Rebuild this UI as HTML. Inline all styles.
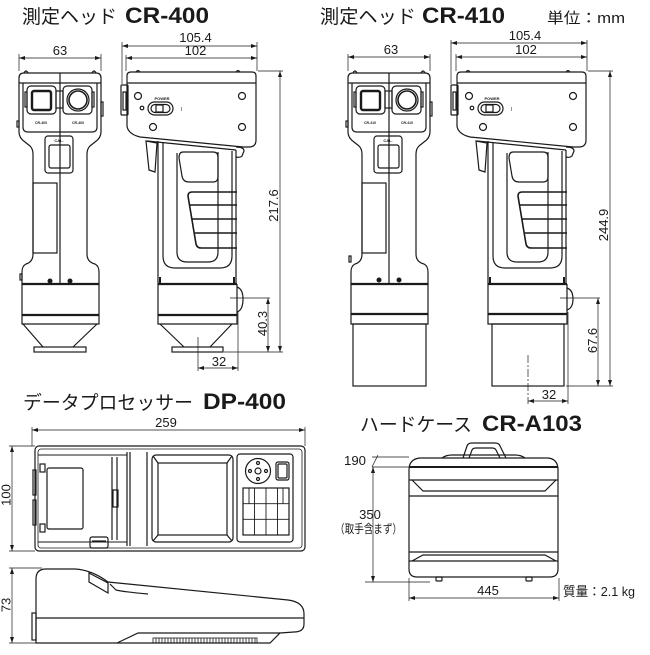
<!DOCTYPE html>
<html><head><meta charset="utf-8"><style>
html,body{margin:0;padding:0;background:#fff;}
svg{display:block;}
.o{fill:none;stroke:#1a1a1a;stroke-width:1.2;}
.d{fill:none;stroke:#1a1a1a;stroke-width:0.7;}
text{font-family:"Liberation Sans","Noto Sans CJK JP",sans-serif;fill:#1a1a1a;stroke:none;}
.n{font-size:13px;text-anchor:middle;}
.t{font-size:19px;}
.b{font-size:22px;font-weight:bold;}
.f{fill:#1a1a1a;}
</style></head><body>
<svg width="650" height="655" viewBox="0 0 650 655" xmlns="http://www.w3.org/2000/svg">
<defs>
<marker id="ar" markerUnits="userSpaceOnUse" markerWidth="6" markerHeight="4" refX="6" refY="2" orient="auto-start-reverse" viewBox="0 0 6 4"><path d="M0,0 L6,2 L0,4 Z" fill="#1a1a1a"/></marker>
</defs>

<!-- Titles -->
<text class="t" x="22" y="23" textLength="95" lengthAdjust="spacingAndGlyphs">測定ヘッド</text>
<text class="b" x="125" y="23" textLength="84" lengthAdjust="spacingAndGlyphs">CR-400</text>
<text class="t" x="320" y="23" textLength="96" lengthAdjust="spacingAndGlyphs">測定ヘッド</text>
<text class="b" x="422" y="23" textLength="83" lengthAdjust="spacingAndGlyphs">CR-410</text>
<text x="547" y="23" font-size="15" textLength="78" lengthAdjust="spacingAndGlyphs">単位：mm</text>
<text class="t" x="23" y="409" textLength="170" lengthAdjust="spacingAndGlyphs">データプロセッサー</text>
<text class="b" x="203" y="409" textLength="83" lengthAdjust="spacingAndGlyphs">DP-400</text>
<text class="t" x="360" y="431" textLength="112" lengthAdjust="spacingAndGlyphs">ハードケース</text>
<text class="b" x="482" y="431" textLength="100" lengthAdjust="spacingAndGlyphs">CR-A103</text>

<!-- ===== CR-400 FRONT ===== -->
<g class="o">
<path d="M24,73 H96 Q101,73 101,78 V132 Q101,138 95,142 L90,146 Q87,149 87,154 V254 Q87,262 95,264 Q99,266 99,272 V284 H22 V272 Q22,266 26,264 Q33,262 33,254 V154 Q33,149 30,146 L25,142 Q19,138 19,132 V78 Q19,73 24,73 Z"/>
<path d="M19,83 H101 M23,83 V127 Q23,132 28,132 H92 Q97,132 97,127 V83 M60,73 V284"/>
<path d="M24,73 Q26,69 28,73 M92,73 Q94,69 96,73"/>
<rect x="27" y="86" width="29" height="28" rx="4"/>
<rect x="32" y="91" width="19" height="19" rx="2" stroke-width="2.4"/>
<rect x="63" y="86" width="29" height="28" rx="4"/>
<circle cx="78" cy="100" r="11"/>
<circle cx="78" cy="100" r="9" stroke-width="1.6"/>
<rect x="56" y="91" width="7" height="17"/>
<rect x="25" y="92" width="2" height="15"/>
<rect x="92" y="92" width="2" height="15"/>
<rect x="101" y="102" width="2" height="14"/>
<rect x="17" y="121" width="2" height="6"/>
<rect x="45" y="136" width="28" height="37" rx="3"/>
<rect x="49" y="145" width="21" height="23" rx="2"/>
<rect x="33" y="183" width="24" height="70"/>
<rect x="20" y="274" width="2" height="6"/>
<path d="M22,284 V324 H99 V284"/>
<path d="M22,284 H99 M22,315 H99" stroke-width="2.2"/>
<path d="M23,324 L43,347 M97,324 L73,347"/>
<rect x="34" y="347" width="52" height="5"/>
</g>
<circle cx="50" cy="281" r="2.5" class="f"/><circle cx="70" cy="281" r="2.5" class="f"/>
<text x="41" y="124" font-size="3.5" font-weight="bold" text-anchor="middle">CR-400</text>
<text x="78" y="124" font-size="3.5" font-weight="bold" text-anchor="middle">CR-400</text>
<text x="59" y="142" font-size="4" font-weight="bold" text-anchor="middle">CAL.</text>

<!-- ===== CR-410 FRONT ===== -->
<g transform="translate(329,0)">
<g class="o">
<path d="M24,73 H96 Q101,73 101,78 V132 Q101,138 95,142 L90,146 Q87,149 87,154 V254 Q87,262 95,264 Q99,266 99,272 V284 H22 V272 Q22,266 26,264 Q33,262 33,254 V154 Q33,149 30,146 L25,142 Q19,138 19,132 V78 Q19,73 24,73 Z"/>
<path d="M19,83 H101 M23,83 V127 Q23,132 28,132 H92 Q97,132 97,127 V83 M60,73 V284"/>
<path d="M24,73 Q26,69 28,73 M92,73 Q94,69 96,73"/>
<rect x="27" y="86" width="29" height="28" rx="4"/>
<rect x="32" y="91" width="19" height="19" rx="2" stroke-width="2.4"/>
<rect x="63" y="86" width="29" height="28" rx="4"/>
<circle cx="78" cy="100" r="11"/>
<circle cx="78" cy="100" r="9" stroke-width="1.6"/>
<rect x="56" y="91" width="7" height="17"/>
<rect x="25" y="92" width="2" height="15"/>
<rect x="92" y="92" width="2" height="15"/>
<rect x="101" y="102" width="2" height="14"/>
<rect x="17" y="121" width="2" height="6"/>
<rect x="45" y="136" width="28" height="37" rx="3"/>
<rect x="49" y="145" width="21" height="23" rx="2"/>
<rect x="33" y="183" width="24" height="70"/>
<rect x="20" y="256" width="2" height="6"/>
<path d="M22,284 V324 H99 V284"/>
<path d="M22,284 H99 M22,314 H99" stroke-width="2.2"/>
<rect x="24" y="324" width="73" height="62"/>
</g>
<circle cx="50" cy="280" r="2.5" class="f"/><circle cx="70" cy="280" r="2.5" class="f"/>
<text x="41" y="124" font-size="3.5" font-weight="bold" text-anchor="middle">CR-410</text>
<text x="78" y="124" font-size="3.5" font-weight="bold" text-anchor="middle">CR-410</text>
<text x="59" y="142" font-size="4" font-weight="bold" text-anchor="middle">CAL.</text>
</g>

<!-- ===== CR-400 SIDE ===== -->
<g class="o">
<path d="M131,72 H252 Q256,72 256,76 V140 Q256,147 249,147 H243 L140,137 Q128,134 127,126 V76 Q127,72 131,72 Z"/>
<path d="M127,83 H256"/>
<path d="M136,72 Q138,69 140,72 M236,72 Q238,69 240,72"/>
<rect x="121" y="85" width="7" height="30" rx="1"/>
<rect x="123" y="92" width="3" height="18"/>
<circle cx="138" cy="96" r="3.5"/><circle cx="242" cy="96" r="3.5"/>
<circle cx="153" cy="127" r="3.5"/><circle cx="242" cy="127" r="3.5"/>
<rect x="148" y="102" width="25" height="13" rx="6.5"/>
<rect x="151" y="104.5" width="19" height="8" rx="4"/>
<rect x="156" y="105" width="7" height="7"/>
<circle cx="142" cy="108" r="1.8"/>
<path d="M147,141 L236,150"/>
<path d="M158,141 V284 M236,150 V284"/>
<path d="M236,147 Q244,147 244,151 L242,156 Q240,158 236,157"/>
<path d="M146,141 L157,143 L155,172 L149,170 Z"/>
<path d="M163,143 V256 Q163,268 175,268 H220 Q232,268 232,256 V151"/>
<path d="M177,153 V252 Q177,262 187,262 H208 Q218,262 218,252 V152"/>
<path d="M183,152 H213 Q218,152 218,157 V177 Q218,182 213,182 H189 Q183,182 182,176 L179,158 Q179,152 183,152 Z"/>
<path d="M237,192 H192 Q188,192 188,196 L196,244 Q197,248 201,248 H237 M190,205 H237 M192.5,219 H237 M195,233 H237" stroke-width="1.6"/>
<path d="M158,284 V324 H237 V284"/>
<path d="M158,284 H237 M158,315 H237" stroke-width="2.2"/>
<path d="M160,324 L184,347 M232,324 L210,347"/>
<rect x="172" y="347" width="51" height="5"/>
<path d="M237,287 Q243,289 243,299 Q243,310 237,312"/>
</g>
<rect x="159" y="277" width="2" height="6" class="f"/><rect x="233" y="277" width="2" height="6" class="f"/>
<text x="162" y="100" font-size="4" font-weight="bold" text-anchor="middle">POWER</text>
<text x="181" y="111" font-size="5">I</text>

<!-- ===== CR-410 SIDE ===== -->
<g transform="translate(330,0)">
<g class="o">
<path d="M131,72 H252 Q256,72 256,76 V140 Q256,147 249,147 H243 L140,137 Q128,134 127,126 V76 Q127,72 131,72 Z"/>
<path d="M127,83 H256"/>
<path d="M136,72 Q138,69 140,72 M236,72 Q238,69 240,72"/>
<rect x="121" y="85" width="7" height="30" rx="1"/>
<rect x="123" y="92" width="3" height="18"/>
<circle cx="139" cy="96" r="3.5"/><circle cx="243" cy="96" r="3.5"/>
<circle cx="153" cy="127" r="3.5"/><circle cx="243" cy="127" r="3.5"/>
<rect x="148" y="102" width="25" height="13" rx="6.5"/>
<rect x="151" y="104.5" width="19" height="8" rx="4"/>
<rect x="156" y="105" width="7" height="7"/>
<circle cx="142" cy="108" r="1.8"/>
<path d="M147,141 L236,150"/>
<path d="M158,141 V284 M236,150 V284"/>
<path d="M236,147 Q244,147 244,151 L242,156 Q240,158 236,157"/>
<path d="M146,141 L157,143 L155,172 L149,170 Z"/>
<path d="M163,143 V256 Q163,268 175,268 H220 Q232,268 232,256 V151"/>
<path d="M177,153 V252 Q177,262 187,262 H208 Q218,262 218,252 V152"/>
<path d="M183,152 H213 Q218,152 218,157 V177 Q218,182 213,182 H189 Q183,182 182,176 L179,158 Q179,152 183,152 Z"/>
<path d="M237,192 H192 Q188,192 188,196 L196,244 Q197,248 201,248 H237 M190,205 H237 M192.5,219 H237 M195,233 H237" stroke-width="1.6"/>
<path d="M158,284 V324 H237 V284"/>
<path d="M158,284 H237 M158,314 H237" stroke-width="2.2"/>
<rect x="162" y="324" width="72" height="62"/>
<path d="M237,288 Q243,290 243,299 Q243,308 237,310"/>
</g>
<rect x="159" y="277" width="2" height="6" class="f"/><rect x="233" y="277" width="2" height="6" class="f"/>
<text x="162" y="100" font-size="4" font-weight="bold" text-anchor="middle">POWER</text>
<text x="181" y="111" font-size="5">I</text>
</g>

<!-- ===== CR dimension lines ===== -->
<g class="d">
<line x1="19" y1="58" x2="101" y2="58" marker-start="url(#ar)" marker-end="url(#ar)"/>
<path d="M19,54 V71 M101,54 V71"/>
<line x1="122" y1="46" x2="257" y2="46" marker-start="url(#ar)" marker-end="url(#ar)"/>
<line x1="126" y1="58" x2="257" y2="58" marker-start="url(#ar)" marker-end="url(#ar)"/>
<path d="M122,42 V84 M126,55 V71 M257,42 V71"/>
<line x1="280" y1="71" x2="280" y2="352" marker-start="url(#ar)" marker-end="url(#ar)"/>
<path d="M258,71 H283 M224,352 H283"/>
<line x1="268" y1="298" x2="268" y2="352" marker-start="url(#ar)" marker-end="url(#ar)"/>
<path d="M230,298 H270"/>
<line x1="198" y1="368" x2="238" y2="368" marker-start="url(#ar)" marker-end="url(#ar)"/>
<path d="M198,337 V371 M238,312 V371"/>

<line x1="348" y1="57" x2="430" y2="57" marker-start="url(#ar)" marker-end="url(#ar)"/>
<path d="M348,54 V71 M430,54 V71"/>
<line x1="451" y1="43" x2="587" y2="43" marker-start="url(#ar)" marker-end="url(#ar)"/>
<line x1="456" y1="57" x2="587" y2="57" marker-start="url(#ar)" marker-end="url(#ar)"/>
<path d="M451,40 V84 M456,54 V71 M587,40 V71"/>
<line x1="610" y1="71" x2="610" y2="386" marker-start="url(#ar)" marker-end="url(#ar)"/>
<path d="M588,71 H613 M566,386 H613"/>
<line x1="598" y1="298" x2="598" y2="386" marker-start="url(#ar)" marker-end="url(#ar)"/>
<path d="M560,298 H600"/>
<line x1="528" y1="401" x2="568" y2="401" marker-start="url(#ar)" marker-end="url(#ar)"/>
<path d="M528,355 V404" stroke-dasharray="8,2,2,2"/>
<path d="M568,312 V404"/>
</g>
<text class="n" x="60" y="55">63</text>
<text class="n" x="195.5" y="42">105.4</text>
<text class="n" x="195.5" y="55">102</text>
<text class="n" transform="translate(278,205.5) rotate(-90)">217.6</text>
<text class="n" transform="translate(267,323.5) rotate(-90)">40.3</text>
<text class="n" x="219" y="366">32</text>
<text class="n" x="391" y="54">63</text>
<text class="n" x="525" y="40">105.4</text>
<text class="n" x="526" y="54">102</text>
<text class="n" transform="translate(608,225) rotate(-90)">244.9</text>
<text class="n" transform="translate(597,340.5) rotate(-90)">67.6</text>
<text class="n" x="549" y="399">32</text>

<!-- ===== DP-400 TOP ===== -->
<g class="o">
<rect x="35" y="446" width="270" height="105" rx="4"/>
<rect x="38" y="449" width="264" height="99" rx="3" stroke-width="0.8"/>
<path d="M38,455 H127 M38,542 H127" stroke-width="0.9"/>
<path d="M112,457 V540 M117,457 V540"/>
<rect x="40" y="464" width="5" height="8"/>
<rect x="40" y="524" width="5" height="8"/>
<rect x="33" y="470" width="3" height="25"/>
<rect x="33" y="500" width="3" height="25"/>
<rect x="47" y="468" width="36" height="61" rx="2"/>
<rect x="113" y="490" width="5" height="17"/>
<path d="M127,452 V546 M130,452 V546 M147,452 V546"/>
<rect x="152" y="455" width="81" height="87" rx="4"/>
<rect x="158" y="463" width="69" height="72"/>
<path d="M153,456 L158,463 M232,456 L227,463 M153,541 L158,535 M232,541 L227,535"/>
<rect x="237" y="454" width="56" height="88" rx="3"/>
<circle cx="258" cy="471" r="12.5"/>
<circle cx="258" cy="471" r="3"/>
<circle cx="258" cy="463" r="1.5"/><circle cx="258" cy="479" r="1.5"/>
<circle cx="250" cy="471" r="1.5"/><circle cx="266" cy="471" r="1.5"/>
<rect x="276" y="462" width="13" height="18" rx="2"/>
<rect x="278" y="464" width="9" height="14" rx="1"/>
<rect x="243" y="488" width="46" height="47"/>
<path d="M254.5,488 V535 M266,488 V535 M277.5,488 V535 M243,503.7 H289 M243,519.3 H289 M249,488 V503.7 M283,488 V503.7" stroke-width="0.9"/>
<rect x="90" y="537" width="18" height="11" rx="2"/>
<path d="M92,541 H106"/>
</g>

<!-- ===== DP-400 SIDE ===== -->
<g class="o">
<path d="M36,643 V579 Q36,569 46,569 H75 Q92,570 108,582 L288,600 Q304,602 304,614 V624 Q304,632 294,632 L280,633 L270,643 Z"/>
<path d="M36,618 H304"/>
<path d="M117,643 L138,633 H280"/>
<path d="M89,573 L108,583 L108,593 L89,582 Z"/>
<path d="M110,584 L116,590 Q125,592 148,594"/>
<rect x="32" y="613" width="4" height="27"/>
<rect x="153" y="638" width="104" height="5" stroke-width="0.8"/>
<path d="M156,638 V643 M159,638 V643 M162,638 V643 M165,638 V643 M168,638 V643 M171,638 V643 M174,638 V643 M177,638 V643 M180,638 V643 M183,638 V643 M186,638 V643 M189,638 V643 M192,638 V643 M195,638 V643 M198,638 V643 M201,638 V643 M204,638 V643 M207,638 V643 M210,638 V643 M213,638 V643 M216,638 V643 M219,638 V643 M222,638 V643 M225,638 V643 M228,638 V643 M231,638 V643 M234,638 V643 M237,638 V643 M240,638 V643 M243,638 V643 M246,638 V643 M249,638 V643 M252,638 V643 M255,638 V643" stroke-width="0.8"/>
</g>

<!-- DP dimensions -->
<g class="d">
<line x1="32" y1="430" x2="305" y2="430" marker-start="url(#ar)" marker-end="url(#ar)"/>
<path d="M32,427 V446 M305,427 V446"/>
<line x1="12" y1="446" x2="12" y2="551" marker-start="url(#ar)" marker-end="url(#ar)"/>
<path d="M9,446 H35 M9,551 H35"/>
<line x1="12" y1="568" x2="12" y2="643" marker-start="url(#ar)" marker-end="url(#ar)"/>
<path d="M9,568 H42 M9,643 H36"/>
</g>
<text class="n" x="166" y="427">259</text>
<text class="n" transform="translate(10.5,495) rotate(-90)">100</text>
<text class="n" transform="translate(10.5,605) rotate(-90)">73</text>

<!-- ===== HARD CASE ===== -->
<g class="o">
<path d="M409,470 Q409,459 420,458 H548 Q558,459 558,470 V569 Q558,577 550,577 H417 Q409,577 409,569 Z"/>
<path d="M409,467 H558" stroke-width="2"/>
<path d="M409,480 H558 M412,480 L423,491 H545 L556,480 M409,496 H558"/>
<path d="M409,552 H558 M412,561 L423,555 H545 L556,561 M409,561 H558"/>
<path d="M463,458 L467,446 Q468,443 472,443 H495 Q499,443 500,446 L506,458"/>
<path d="M469,458 L472,450 Q473,448 476,448 H492 Q495,448 496,450 L500,458"/>
<path d="M442,458 Q446,455 452,455 H515 Q521,455 525,458"/>
<rect x="436" y="577" width="6" height="4" rx="1"/>
<rect x="526" y="577" width="6" height="4" rx="1"/>
</g>
<g class="d">
<path d="M372,457 H409 M372,467 H409 M372,467 L378,455"/>
<line x1="373" y1="467" x2="373" y2="582" marker-start="url(#ar)" marker-end="url(#ar)"/>
<path d="M365,582 H430"/>
<line x1="409" y1="598" x2="559" y2="598" marker-start="url(#ar)" marker-end="url(#ar)"/>
<path d="M409,578 V601 M559,578 V601"/>
</g>
<text x="344" y="465" font-size="13" textLength="22" lengthAdjust="spacingAndGlyphs">190</text>
<text class="n" x="370" y="519">350</text>
<text x="335" y="533" font-size="12" textLength="67" lengthAdjust="spacingAndGlyphs">（取手含まず）</text>
<text class="n" x="488" y="595">445</text>
<text x="563" y="596" font-size="13" textLength="72" lengthAdjust="spacingAndGlyphs">質量：2.1 kg</text>
</svg>
</body></html>
